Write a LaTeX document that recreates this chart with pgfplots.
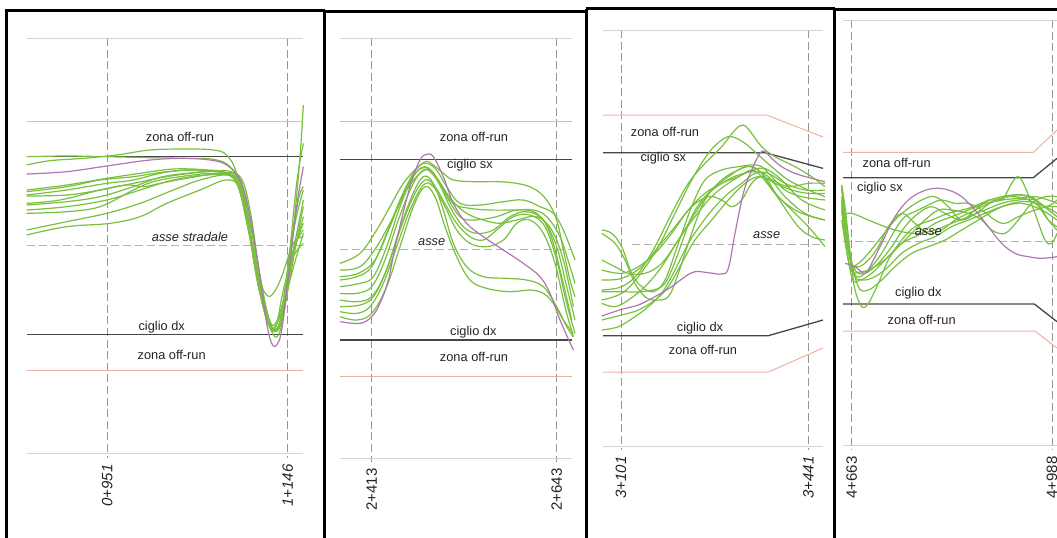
\documentclass[border=0pt]{standalone}
\usepackage{fontspec}
\setmainfont{Liberation Sans}
\usepackage{pgfplots}
\pgfplotsset{compat=1.18}

\definecolor{traj}{RGB}{120,192,62}
\definecolor{trajp}{RGB}{176,118,178}
\definecolor{offrun}{RGB}{236,178,166}
\definecolor{ciglio}{RGB}{70,70,70}
\definecolor{lim}{RGB}{212,212,212}
\definecolor{asse}{RGB}{178,178,178}
\definecolor{grd}{RGB}{150,150,150}
\definecolor{txt}{RGB}{35,35,35}

\pgfplotsset{
  panel/.style={
    x=0.1666667pt, y=0.1666667pt, y dir=reverse,
    anchor=north west, clip=false,
    axis line style={draw=none},
    major tick length=0pt,
    ytick=\empty,
    xmajorgrids,
    grid style={grd, line width=0.5pt, dash pattern=on 4pt off 1.8pt},
    xticklabel style={rotate=90, anchor=east, inner sep=3pt, font=\fontsize{7.5}{8}\selectfont, text=txt},
    enlargelimits=false,
  },
  gr/.style={traj, line width=0.6pt, smooth, tension=0.6, mark=none},
  pu/.style={trajp, line width=0.6pt, smooth, tension=0.6, mark=none},
  rl/.style={offrun, line width=0.5pt, mark=none},
  bl/.style={ciglio, line width=0.65pt, mark=none},
  gy/.style={lim, line width=0.5pt, mark=none},
  ax/.style={asse, line width=0.5pt, dash pattern=on 4pt off 2pt, mark=none},
}
\tikzset{lab/.style={font=\fontsize{6.4}{7}\selectfont, text=txt, inner sep=0pt}}

\begin{document}
\begin{tikzpicture}
\path[use as bounding box] (0pt,0pt) rectangle (528.5pt,-268.5pt);

% ---------- panel 1 : 0+951 - 1+146
\begin{axis}[panel, at={(13.333pt,-19pt)},
  xmin=80, xmax=910, ymin=-156, ymax=1104,
  xtick={322,863}, xticklabels={0+951,1+146},
  xticklabel style={font=\fontsize{7.5}{8}\selectfont\itshape}]
\addplot[gy] coordinates {(80,-156) (910,-156)};
\addplot[gy] coordinates {(80,1089) (910,1089)};
\addplot[rl] coordinates {(80,93) (910,93)};
\addplot[rl] coordinates {(80,840) (910,840)};
\addplot[bl] coordinates {(80,200) (910,200)};
\addplot[bl] coordinates {(80,733) (910,733)};
\addplot[ax] coordinates {(80,467) (910,467)};
\addplot[gr] coordinates {(80,200) (200,198) (320,200) (450,203) (560,205) (640,208) (690,230) (725,300) (760,480) (790,640) (815,725) (835,735) (855,650) (880,420) (900,200) (910,45)};
\addplot[gr] coordinates {(80,225) (150,212) (250,205) (350,195) (450,180) (560,177) (640,180) (680,195) (710,250) (740,380) (770,560) (800,680) (820,720) (840,700) (865,520) (890,280) (910,160)};
\addplot[gr] coordinates {(80,300) (200,285) (320,265) (420,250) (520,237) (620,240) (690,255) (720,300) (750,430) (780,590) (805,690) (825,718) (845,680) (870,480) (895,330) (910,290)};
\addplot[gr] coordinates {(80,315) (200,300) (320,280) (400,270) (480,250) (560,240) (650,245) (700,265) (730,330) (760,490) (790,650) (815,715) (838,700) (860,560) (885,400) (910,300)};
\addplot[gr] coordinates {(80,345) (200,335) (300,320) (400,290) (480,262) (560,250) (660,245) (710,280) (745,420) (775,590) (805,700) (822,725) (842,690) (868,540) (892,420) (910,330)};
\addplot[gr] coordinates {(80,360) (200,350) (320,330) (420,300) (520,270) (620,255) (700,262) (735,340) (765,520) (795,670) (818,720) (840,700) (865,590) (890,450) (910,350)};
\addplot[gr] coordinates {(80,340) (180,330) (300,300) (380,285) (430,290) (480,280) (560,265) (660,250) (720,260) (750,360) (780,560) (805,690) (825,720) (848,680) (875,520) (910,380)};
\addplot[gr] coordinates {(80,370) (200,365) (300,350) (400,300) (460,275) (540,260) (640,250) (710,262) (740,370) (770,560) (800,690) (820,715) (845,660) (875,500) (910,400)};
\addplot[gr] coordinates {(80,420) (200,395) (320,370) (420,340) (520,300) (600,270) (680,255) (720,280) (750,400) (780,580) (805,680) (823,705) (848,640) (880,480) (910,420)};
\addplot[gr] coordinates {(80,435) (200,410) (330,400) (420,380) (500,340) (600,300) (680,270) (720,300) (755,460) (785,620) (810,700) (828,710) (850,600) (880,500) (910,460)};
\addplot[gr] coordinates {(80,305) (200,290) (300,270) (400,260) (500,245) (600,240) (680,248) (715,290) (745,420) (775,560) (800,615) (820,610) (845,560) (880,460) (910,440)};
\addplot[gr] coordinates {(80,318) (200,315) (300,300) (400,280) (500,260) (620,245) (700,248) (735,310) (770,500) (800,660) (820,718) (842,705) (870,570) (910,430)};
\addplot[pu] coordinates {(80,252) (200,245) (320,228) (450,210) (550,205) (630,210) (680,225) (720,270) (750,380) (780,560) (800,700) (815,760) (830,765) (845,720) (865,560) (890,350) (910,230)};
\node[lab] at (axis cs:540,140) {zona off-run};
\node[lab] at (axis cs:570,440) {\itshape asse stradale};
\node[lab] at (axis cs:485,712) {ciglio dx};
\node[lab] at (axis cs:515,795) {zona off-run};
\end{axis}

% ---------- panel 2 : 2+413 - 2+643
\begin{axis}[panel, at={(170pt,-19pt)},
  xmin=30, xmax=726, ymin=-246, ymax=1026,
  xtick={125,680}, xticklabels={2+413,2+643}]
\addplot[gy] coordinates {(30,-246) (726,-246)};
\addplot[gy] coordinates {(30,1014) (726,1014)};
\addplot[rl] coordinates {(30,5) (726,5)};
\addplot[rl] coordinates {(30,768) (726,768)};
\addplot[bl] coordinates {(30,118) (726,118)};
\addplot[bl] coordinates {(30,660) (726,660)};
\addplot[ax] coordinates {(30,387) (726,387)};
\addplot[gr] coordinates {(30,480) (80,470) (125,440) (170,340) (210,240) (250,160) (285,125) (310,135) (340,160) (370,180) (430,185) (500,185) (560,190) (610,205) (650,240) (680,300) (700,390) (720,480) (735,530)};
\addplot[gr] coordinates {(30,430) (90,400) (140,330) (180,260) (220,190) (265,140) (290,130) (320,150) (350,200) (390,250) (450,255) (520,245) (580,240) (630,260) (670,280) (700,330) (735,420)};
\addplot[gr] coordinates {(30,500) (90,490) (130,470) (170,380) (210,260) (250,170) (285,140) (320,175) (360,260) (400,320) (440,340) (490,330) (540,290) (590,275) (640,300) (680,380) (710,500) (735,600)};
\addplot[gr] coordinates {(30,520) (80,520) (125,500) (165,420) (205,300) (245,200) (280,150) (310,165) (350,230) (390,290) (430,300) (500,290) (560,270) (620,280) (660,340) (695,470) (725,600)};
\addplot[gr] coordinates {(30,560) (90,555) (130,530) (170,450) (210,330) (250,230) (285,180) (315,200) (350,260) (380,310) (420,350) (460,360) (500,330) (550,290) (600,285) (645,320) (680,420) (710,550) (735,640)};
\addplot[gr] coordinates {(30,575) (80,580) (120,560) (160,490) (200,380) (240,270) (280,195) (310,200) (345,260) (380,330) (420,370) (470,380) (520,360) (560,310) (600,300) (640,340) (675,430) (705,560) (730,650)};
\addplot[gr] coordinates {(30,540) (80,545) (125,530) (165,460) (205,340) (245,230) (280,170) (310,190) (340,270) (370,370) (410,440) (460,470) (530,475) (590,480) (640,500) (680,560) (710,620) (730,650)};
\addplot[gr] coordinates {(30,590) (80,600) (125,580) (170,500) (210,380) (250,260) (285,200) (315,230) (345,320) (380,410) (420,480) (470,505) (540,515) (600,510) (640,520) (670,550) (700,600) (730,640)};
\addplot[gr] coordinates {(30,450) (90,440) (140,380) (190,290) (230,210) (270,160) (300,150) (330,190) (370,250) (420,265) (480,270) (550,270) (610,270) (650,290) (690,350) (720,440) (735,490)};
\addplot[gr] coordinates {(30,470) (85,460) (135,420) (180,320) (220,220) (260,155) (295,145) (325,180) (365,240) (410,280) (460,300) (510,310) (560,300) (620,290) (665,330) (700,420) (730,560)};
\addplot[pu] coordinates {(30,605) (90,610) (125,590) (150,550) (175,480) (200,360) (240,200) (270,120) (290,103) (310,110) (340,170) (370,250) (410,310) (460,350) (520,390) (580,430) (630,470) (660,520) (690,600) (730,690)};
\node[lab] at (axis cs:432,50) {zona off-run};
\node[lab] at (axis cs:420,135) {ciglio sx};
\node[lab] at (axis cs:305,365) {\itshape asse};
\node[lab] at (axis cs:430,637) {ciglio dx};
\node[lab] at (axis cs:432,710) {zona off-run};
\end{axis}

% ---------- panel 3 : 3+101 - 3+441
\begin{axis}[panel, at={(301.5pt,-15pt)},
  xmin=24, xmax=684, ymin=-210, ymax=1050,
  xtick={78,640}, xticklabels={3+101,3+441},
  xticklabel style={font=\fontsize{7.5}{8}\selectfont\itshape}]
\addplot[gy] coordinates {(24,-210) (684,-210)};
\addplot[gy] coordinates {(24,1038) (684,1038)};
\addplot[rl] coordinates {(24,45) (515,45) (684,111)};
\addplot[rl] coordinates {(24,816) (520,816) (684,744)};
\addplot[bl] coordinates {(24,158) (510,158) (684,205)};
\addplot[bl] coordinates {(24,707) (520,707) (684,660)};
\addplot[ax] coordinates {(110,433) (684,433)};
\addplot[gr] coordinates {(20,570) (80,560) (130,520) (180,440) (230,340) (280,250) (330,190) (380,140) (420,90) (445,75) (470,100) (500,140) (540,170) (600,200) (650,230) (690,260)};
\addplot[gr] coordinates {(20,600) (80,580) (130,530) (190,440) (240,340) (290,240) (340,160) (380,120) (410,110) (450,130) (490,165) (530,200) (580,240) (640,270) (690,290)};
\addplot[gr] coordinates {(20,390) (50,400) (80,440) (110,520) (140,560) (175,575) (210,540) (250,430) (290,320) (330,240) (380,210) (430,200) (470,195) (500,200) (530,230) (570,270) (620,290) (690,300)};
\addplot[gr] coordinates {(20,400) (60,430) (90,480) (120,550) (150,590) (180,600) (220,590) (250,520) (290,400) (330,300) (380,240) (430,210) (470,200) (510,230) (550,290) (600,330) (650,350) (690,360)};
\addplot[gr] coordinates {(20,480) (60,500) (100,520) (150,520) (200,490) (250,420) (300,340) (350,270) (400,230) (450,200) (490,210) (520,250) (560,310) (610,380) (650,410) (690,420)};
\addplot[gr] coordinates {(20,510) (80,520) (130,500) (180,460) (230,400) (280,330) (330,280) (380,250) (430,230) (470,210) (500,230) (540,280) (590,330) (640,380) (690,440)};
\addplot[gr] coordinates {(20,540) (80,535) (140,500) (190,440) (240,380) (290,320) (340,290) (380,300) (410,320) (440,300) (470,250) (500,230) (540,250) (590,270) (640,280) (690,280)};
\addplot[gr] coordinates {(20,690) (70,680) (120,650) (160,620) (200,580) (240,510) (280,430) (320,370) (360,320) (400,280) (440,250) (480,220) (520,220) (570,250) (630,270) (690,270)};
\addplot[gr] coordinates {(20,660) (80,645) (130,630) (180,600) (220,560) (260,490) (300,420) (350,360) (400,300) (450,250) (490,230) (530,240) (580,260) (640,250) (690,250)};
\addplot[gr] coordinates {(20,575) (80,575) (140,575) (200,560) (230,510) (260,430) (290,350) (330,290) (380,250) (430,225) (480,215) (520,230) (570,290) (630,340) (690,360)};
\addplot[gr] coordinates {(20,610) (60,620) (100,600) (150,560) (200,500) (250,420) (300,350) (350,290) (400,250) (450,220) (490,205) (520,210) (560,240) (620,300) (690,330)};
\addplot[pu] coordinates {(20,648) (80,628) (130,615) (180,590) (230,560) (270,530) (300,515) (340,518) (380,522) (400,505) (420,400) (445,280) (470,210) (495,160) (510,155) (530,175) (560,200) (600,220) (650,235) (690,245)};
\node[lab] at (axis cs:210,97) {zona off-run};
\node[lab] at (axis cs:205,175) {ciglio sx};
\node[lab] at (axis cs:515,405) {\itshape asse};
\node[lab] at (axis cs:315,685) {ciglio dx};
\node[lab] at (axis cs:324,750) {zona off-run};
\end{axis}

% ---------- panel 4 : 4+663 - 4+988
\begin{axis}[panel, at={(421.5pt,-10pt)},
  xmin=24, xmax=666, ymin=-300, ymax=990,
  xtick={50,651}, xticklabels={4+663,4+988}]
\addplot[gy] coordinates {(24,-300) (666,-300)};
\addplot[gy] coordinates {(24,975) (666,975)};
\addplot[rl] coordinates {(24,97) (595,97) (666,30)};
\addplot[rl] coordinates {(24,633) (600,633) (666,684)};
\addplot[bl] coordinates {(24,173) (595,173) (666,115)};
\addplot[bl] coordinates {(24,552) (598,552) (666,605)};
\addplot[ax] coordinates {(24,365) (666,365)};
\addplot[gr] coordinates {(20,195) (30,260) (40,350) (50,440) (60,510) (80,560) (100,550) (130,490) (160,420) (200,360) (240,320) (290,300) (340,280) (400,265) (450,245) (500,230) (550,225) (600,240) (640,300) (666,330)};
\addplot[gr] coordinates {(20,200) (35,320) (48,430) (70,430) (100,400) (140,350) (180,300) (220,265) (260,240) (300,230) (340,260) (380,300) (420,270) (460,240) (500,240) (530,190) (550,170) (570,200) (600,280) (630,360) (650,370) (666,340)};
\addplot[gr] coordinates {(20,285) (50,280) (100,300) (150,320) (200,335) (250,340) (300,330) (350,310) (400,290) (450,270) (500,250) (550,240) (600,240) (640,270) (666,290)};
\addplot[gr] coordinates {(20,230) (40,380) (60,450) (90,460) (130,430) (170,380) (210,320) (250,280) (290,260) (330,280) (380,300) (430,275) (480,240) (540,230) (600,250) (640,300) (666,320)};
\addplot[gr] coordinates {(20,210) (40,360) (55,460) (80,480) (120,470) (160,440) (200,400) (250,370) (300,350) (350,320) (400,300) (450,280) (500,260) (560,250) (620,270) (666,300)};
\addplot[gr] coordinates {(20,240) (45,400) (70,500) (100,510) (140,480) (180,440) (230,400) (280,380) (330,360) (380,330) (430,300) (480,270) (530,250) (580,245) (630,260) (666,280)};
\addplot[gr] coordinates {(20,250) (45,410) (65,470) (100,450) (140,400) (180,330) (210,290) (250,270) (290,250) (320,240) (360,250) (400,250) (440,270) (480,300) (510,310) (550,290) (600,270) (640,260) (666,260)};
\addplot[gr] coordinates {(20,260) (45,420) (70,440) (100,420) (130,380) (160,320) (200,280) (240,310) (280,340) (320,330) (360,300) (400,280) (440,260) (490,240) (540,225) (590,230) (630,260) (666,240)};
\addplot[gr] coordinates {(20,270) (45,440) (80,455) (120,440) (160,410) (200,370) (250,345) (300,310) (350,290) (400,270) (450,250) (500,240) (550,235) (600,230) (640,240) (666,250)};
\addplot[gr] coordinates {(20,300) (50,470) (75,480) (110,460) (150,420) (190,380) (230,340) (270,300) (310,270) (350,270) (400,280) (440,300) (470,330) (510,340) (550,300) (590,250) (630,230) (666,230)};
\addplot[pu] coordinates {(30,430) (60,440) (90,460) (110,430) (140,370) (180,290) (220,240) (260,215) (300,205) (340,210) (380,230) (420,270) (460,320) (500,370) (540,400) (580,410) (620,415) (666,410)};
\node[lab] at (axis cs:185,128) {zona off-run};
\node[lab] at (axis cs:135,205) {ciglio sx};
\node[lab] at (axis cs:280,335) {\itshape asse};
\node[lab] at (axis cs:250,520) {ciglio dx};
\node[lab] at (axis cs:260,600) {zona off-run};
\end{axis}

% ---------- black panel frames
\begin{scope}[x=0.5pt,y=-0.5pt,line width=1.5pt]
\draw (6,545) -- (6,10) -- (325,10);
\draw (324.5,9.5) -- (324.5,545);
\draw (324,11) -- (587,11);
\draw (586.5,545) -- (586.5,8.5);
\draw (586,8.5) -- (835,8.5);
\draw (834.5,545) -- (834.5,9);
\draw (834,9) -- (1062,9);
\end{scope}
\end{tikzpicture}
\end{document}
